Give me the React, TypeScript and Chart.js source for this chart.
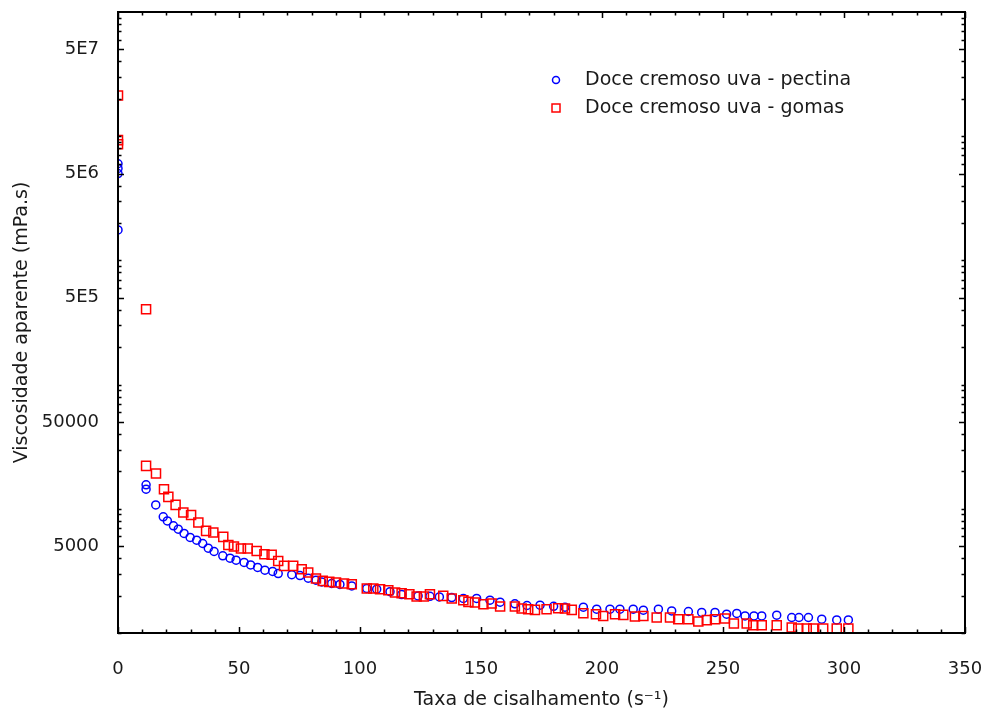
import React, { useEffect, useRef } from 'react';
import { Chart, registerables } from 'chart.js';

Chart.register(...registerables);

// ---- data ----
const seriesNames = ['Doce cremoso uva - pectina', 'Doce cremoso uva - gomas'];

const pectinaX = [
  0, 0, 0, 0, 11.6, 11.6, 15.6, 18.7, 20.4, 22.9, 24.9, 27.3, 29.8, 32.5,
  35, 37.3, 39.7, 43.3, 46.3, 48.8, 52.1, 54.8, 57.7, 60.7,
  63.9, 66.2, 71.8, 75.2, 78.6, 81.8, 84.2, 88.3, 91.7, 96.6,
  102.8, 106.9, 112.4, 117.2, 124, 128.9, 132.8, 137.9, 142.7, 148.2,
  153.7, 157.9, 164, 169, 174.4, 180, 184.7, 192.3, 197.8, 203.3,
  207.4, 212.9, 217.1, 223.3, 228.8, 235.7, 241.2, 246.7, 251.5, 255.7,
  259.1, 262.8, 266, 272.2, 278.4, 281.4, 285.3, 290.8, 297, 301.8,
];
const pectinaY = [
  6.0e6, 5.5e6, 5.0e6, 1.76e6, 15600, 14400, 10750, 8610, 7990, 7290, 6850, 6330, 5880, 5590,
  5255, 4820, 4530, 4180, 4000, 3855, 3700, 3535, 3370, 3205,
  3130, 3010, 2950, 2900, 2760, 2660, 2580, 2504, 2460, 2395,
  2282, 2253, 2150, 2040, 1990, 1975, 1950, 1930, 1900, 1900,
  1837, 1771, 1716, 1665, 1675, 1640, 1614, 1614, 1555, 1555,
  1555, 1555, 1526, 1555, 1507, 1490, 1463, 1463, 1417, 1436,
  1373, 1373, 1373, 1391, 1333, 1333, 1333, 1292, 1275, 1275,
];

const gomasX = [
  0, 0, 0, 11.6, 11.6, 15.7, 19, 20.8, 23.8, 27, 30.2, 33.2, 36.4, 39.4,
  43.5, 45.6, 47.9, 50.8, 53.6, 57.3, 60.5, 63.5, 66.2,
  68.6, 72.4, 75.9, 78.6, 81.8, 84.6, 87.3, 90.1, 93.4, 96.6,
  102.8, 105.5, 108.3, 111.7, 114.5, 117.2, 120.4, 123.4, 126.4, 128.9,
  134.4, 137.9, 142.7, 144.8, 147.5, 151, 154.4, 157.9, 164,
  166.8, 169.5, 172.3, 177.1, 181.9, 184.7, 187.5, 192.3, 197.5, 200.5,
  205.4, 208.8, 213.6, 217.1, 222.6, 228.1, 231.5, 235.7, 239.8, 243.3,
  246.7, 250.8, 254.5, 259.8, 262.5, 266, 272.2, 278.4, 281.1, 284.6,
  287.3, 291.4, 297, 301.8,
];
const gomasY = [
  2.13e7, 9.3e6, 8.6e6, 4.05e5, 22160, 19230, 14390, 12470, 10750, 9340, 8930, 7760, 6640, 6450,
  5940, 5120, 4980, 4790, 4790, 4580, 4310, 4260, 3800,
  3471, 3471, 3265, 3070, 2748, 2628, 2580, 2551, 2504, 2472,
  2282, 2282, 2253, 2211, 2119, 2092, 2053, 1968, 1968, 2053,
  1990, 1896, 1837, 1780, 1761, 1706, 1728, 1635, 1635,
  1576, 1555, 1535, 1555, 1584, 1576, 1535, 1443, 1417, 1373,
  1417, 1399, 1358, 1373, 1333, 1333, 1292, 1292, 1238, 1269,
  1292, 1309, 1193, 1193, 1156, 1156, 1156, 1108, 1088, 1088,
  1088, 1088, 1088, 1088,
];

const yTickValues = [5000, 50000, 5e5, 5e6, 5e7];
const yTickLabels = ['5000', '50000', '5E5', '5E6', '5E7'];
const xMin = 0;
const xMax = 350;
const xMajorStep = 50;
const xMinorStep = 10;
const yMin = 1000;
const yMax = 1e8;

const xTitle = 'Taxa de cisalhamento (s\u207B\u00B9)';
const yTitle = 'Viscosidade aparente (mPa.s)';

const FONT = '"DejaVu Sans", sans-serif';
const TEXT = '#1a1a1a';
const BLUE = '#0000ff';
const RED = '#ff0000';

const framePlugin = {
  id: 'frameTicks',
  afterDraw(chart: any) {
    const { ctx, chartArea } = chart;
    const { left, right, top, bottom } = chartArea;
    const xs = chart.scales.x;
    const ys = chart.scales.y;
    ctx.save();
    ctx.strokeStyle = '#000';
    ctx.lineWidth = 1.5;
    ctx.beginPath();
    for (let v = xMin; v <= xMax; v += xMinorStep) {
      const px = Math.round(xs.getPixelForValue(v)) + 0.5;
      const len = v % xMajorStep === 0 ? 6 : 3.5;
      ctx.moveTo(px, bottom);
      ctx.lineTo(px, bottom - len);
      ctx.moveTo(px, top);
      ctx.lineTo(px, top + len);
    }
    for (let e = 3; e <= 7; e++) {
      for (let m = 1; m <= 9; m++) {
        const v = m * Math.pow(10, e);
        const py = Math.round(ys.getPixelForValue(v)) + 0.5;
        const len = m === 5 ? 6 : 3.5;
        ctx.moveTo(left, py);
        ctx.lineTo(left + len, py);
        ctx.moveTo(right, py);
        ctx.lineTo(right - len, py);
      }
    }
    ctx.stroke();
    ctx.lineWidth = 2;
    ctx.strokeRect(left, top, right - left, bottom - top);
    ctx.restore();
  },
};

const legendPlugin = {
  id: 'insideLegend',
  afterDraw(chart: any) {
    const { ctx, chartArea } = chart;
    const mx = chartArea.left + 438;
    const tx = chartArea.left + 467;
    const rows = [chartArea.top + 68, chartArea.top + 96];
    ctx.save();
    ctx.lineWidth = 1.5;
    ctx.strokeStyle = BLUE;
    ctx.beginPath();
    ctx.arc(mx, rows[0], 3.5, 0, Math.PI * 2);
    ctx.stroke();
    ctx.strokeStyle = RED;
    ctx.strokeRect(mx - 4, rows[1] - 4, 8, 8);
    ctx.fillStyle = TEXT;
    ctx.font = `19px ${FONT}`;
    ctx.textAlign = 'left';
    ctx.textBaseline = 'middle';
    ctx.fillText(seriesNames[0], tx, rows[0]);
    ctx.fillText(seriesNames[1], tx, rows[1]);
    ctx.restore();
  },
};

export default function App() {
  const ref = useRef<HTMLCanvasElement>(null);
  useEffect(() => {
    const canvas = ref.current;
    if (!canvas) return;
    const chart = new Chart(canvas, {
      type: 'scatter',
      data: {
        datasets: [
          {
            label: seriesNames[0],
            data: pectinaX.map((x, i) => ({ x, y: pectinaY[i] })),
            pointStyle: 'circle',
            pointRadius: 4,
            pointHoverRadius: 4,
            borderColor: BLUE,
            backgroundColor: 'rgba(0,0,0,0)',
            pointBorderWidth: 1.5,
            borderWidth: 1.5,
            order: 1,
          },
          {
            label: seriesNames[1],
            data: gomasX.map((x, i) => ({ x, y: gomasY[i] })),
            pointStyle: 'rect',
            pointRadius: 6.4,
            pointHoverRadius: 6.4,
            borderColor: RED,
            backgroundColor: 'rgba(0,0,0,0)',
            pointBorderWidth: 1.5,
            borderWidth: 1.5,
            order: 0,
          },
        ],
      },
      options: {
        responsive: false,
        maintainAspectRatio: false,
        animation: false,
        devicePixelRatio: 1,
        layout: { padding: { top: 12, right: 21, left: 0, bottom: 0 } },
        plugins: {
          legend: { display: false },
          tooltip: { enabled: false },
        },
        scales: {
          x: {
            type: 'linear',
            min: xMin,
            max: xMax,
            grid: { display: false },
            border: { display: false },
            ticks: {
              stepSize: xMajorStep,
              padding: 18,
              color: TEXT,
              font: { family: FONT, size: 18 },
              maxRotation: 0,
            },
            title: {
              display: true,
              text: xTitle,
              color: TEXT,
              font: { family: FONT, size: 19 },
              padding: { top: 0, bottom: 4 },
            },
            afterFit: (s: any) => {
              s.height = 82;
              s.paddingLeft = 0;
              s.paddingRight = 0;
              s.paddingTop = 0;
              s.paddingBottom = 0;
            },
          },
          y: {
            type: 'logarithmic',
            min: yMin,
            max: yMax,
            grid: { display: false },
            border: { display: false },
            afterBuildTicks: (s: any) => {
              s.ticks = yTickValues.map((v) => ({ value: v }));
            },
            ticks: {
              autoSkip: false,
              padding: 11,
              color: TEXT,
              font: { family: FONT, size: 18 },
              callback: (value: any) => {
                const i = yTickValues.indexOf(Number(value));
                return i >= 0 ? yTickLabels[i] : '';
              },
            },
            title: {
              display: true,
              text: yTitle,
              color: TEXT,
              font: { family: FONT, size: 19 },
              padding: { top: 10.6, bottom: 0 },
            },
            afterFit: (s: any) => {
              s.width = 118;
              s.paddingLeft = 0;
              s.paddingRight = 0;
              s.paddingTop = 0;
              s.paddingBottom = 0;
            },
          },
        },
      },
      plugins: [framePlugin, legendPlugin],
    });
    return () => chart.destroy();
  }, []);

  return (
    <div style={{ position: 'fixed', left: 0, top: 0, width: 986, height: 715, background: '#fff' }}>
      <canvas ref={ref} width={986} height={715} style={{ display: 'block' }} />
    </div>
  );
}
